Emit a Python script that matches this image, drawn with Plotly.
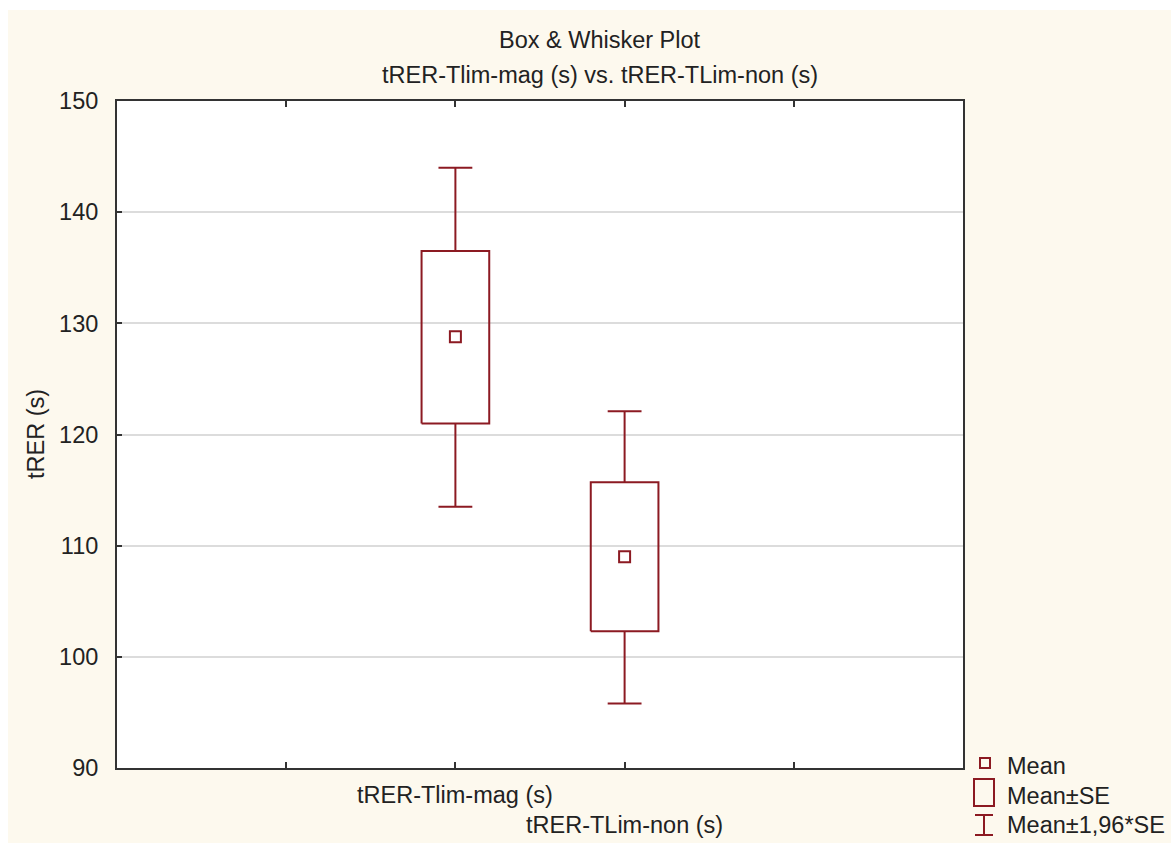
import plotly.graph_objects as go

# ---- data ----
categories = ["tRER-Tlim-mag (s)", "tRER-TLim-non (s)"]
positions = [1, 2]
means = [128.8, 109.0]
se_low = [121.0, 102.3]
se_high = [136.5, 115.7]
ci_low = [113.5, 95.8]
ci_high = [144.0, 122.1]
y_ticks = [90, 100, 110, 120, 130, 140, 150]
legend_labels = ["Mean", "Mean±SE", "Mean±1,96*SE"]

title_lines = ["Box & Whisker Plot", "tRER-Tlim-mag (s) vs. tRER-TLim-non (s)"]
y_title = "tRER (s)"

RED = "#8C1A22"
CREAM = "#FDF9EE"
FONT = "Liberation Sans, Arial, sans-serif"
FS = 23.5

W, H = 1171, 843
L, R, T, B = 117, 963, 101, 768


def px_x(p):
    return (p - L) / (R - L)


def px_y(p):
    return (B - p) / (B - T)


fig = go.Figure()

box_half = 0.2
cap_half = 0.1

for pos, m, lo, hi, clo, chi in zip(positions, means, se_low, se_high, ci_low, ci_high):
    # whiskers (box edge to cap)
    fig.add_trace(go.Scatter(
        x=[pos, pos, None, pos - cap_half, pos + cap_half, None,
           pos, pos, None, pos - cap_half, pos + cap_half],
        y=[hi, chi, None, chi, chi, None, lo, clo, None, clo, clo],
        mode="lines", line=dict(color=RED, width=2), hoverinfo="skip", showlegend=False))
    # SE box
    fig.add_trace(go.Scatter(
        x=[pos - box_half, pos + box_half, pos + box_half, pos - box_half, pos - box_half],
        y=[lo, lo, hi, hi, lo],
        mode="lines", line=dict(color=RED, width=2), hoverinfo="skip", showlegend=False))

# means
fig.add_trace(go.Scatter(
    x=positions, y=means, mode="markers",
    marker=dict(symbol="square-open", size=11, color=RED, line=dict(width=2, color=RED)),
    showlegend=False))

shapes = [
    # white outer border (top and left)
    dict(type="rect", xref="paper", yref="paper", layer="below",
         x0=px_x(-5), x1=px_x(8), y0=px_y(H + 10), y1=px_y(-5),
         fillcolor="white", line=dict(width=0)),
    dict(type="rect", xref="paper", yref="paper", layer="below",
         x0=px_x(-5), x1=px_x(W + 10), y0=px_y(10), y1=px_y(-5),
         fillcolor="white", line=dict(width=0)),
    # legend: mean marker
    dict(type="rect", xref="paper", yref="paper",
         x0=px_x(980), x1=px_x(990), y0=px_y(768), y1=px_y(758),
         line=dict(color=RED, width=2)),
    # legend: SE box
    dict(type="rect", xref="paper", yref="paper",
         x0=px_x(974), x1=px_x(994), y0=px_y(806), y1=px_y(779),
         line=dict(color=RED, width=2)),
    # legend: I-beam
    dict(type="line", xref="paper", yref="paper",
         x0=px_x(975), x1=px_x(993), y0=px_y(815), y1=px_y(815),
         line=dict(color=RED, width=2)),
    dict(type="line", xref="paper", yref="paper",
         x0=px_x(984), x1=px_x(984), y0=px_y(815), y1=px_y(835),
         line=dict(color=RED, width=2)),
    dict(type="line", xref="paper", yref="paper",
         x0=px_x(975), x1=px_x(993), y0=px_y(835), y1=px_y(835),
         line=dict(color=RED, width=2)),
]

annotations = []
# titles
for txt, py in zip(title_lines, [40, 75]):
    annotations.append(dict(text=txt, xref="paper", yref="paper",
                            x=px_x(600), y=px_y(py), xanchor="center", yanchor="middle",
                            showarrow=False, font=dict(family=FONT, size=FS, color="#222")))
# y title
annotations.append(dict(text=y_title, xref="paper", yref="paper", textangle=-90,
                        x=px_x(36), y=px_y(434), xanchor="center", yanchor="middle",
                        showarrow=False, font=dict(family=FONT, size=FS, color="#222")))
# staggered category labels
for pos, cat, py in zip(positions, categories, [795, 825]):
    annotations.append(dict(text=cat, xref="x", yref="paper", x=pos, y=px_y(py),
                            xanchor="center", yanchor="middle", showarrow=False,
                            font=dict(family=FONT, size=FS, color="#222")))
# legend labels
for lab, py in zip(legend_labels, [766, 796, 825]):
    annotations.append(dict(text=lab, xref="paper", yref="paper", x=px_x(1005), y=px_y(py),
                            xanchor="left", yanchor="middle", showarrow=False,
                            font=dict(family=FONT, size=FS, color="#222")))

fig.update_layout(
    width=W, height=H,
    margin=dict(l=L, r=W - R, t=T, b=H - B, pad=0),
    paper_bgcolor=CREAM, plot_bgcolor="white",
    shapes=shapes, annotations=annotations,
    showlegend=False,
    xaxis=dict(range=[-1, 4], tickvals=[0, 1, 2, 3], showticklabels=False,
               ticks="inside", ticklen=6, tickwidth=2, tickcolor="#333",
               showgrid=False, zeroline=False, showline=True, linecolor="#333",
               linewidth=2, mirror="ticks"),
    yaxis=dict(range=[90, 150], tickvals=y_ticks, ticks="inside", ticklen=5,
               tickwidth=2, tickcolor="#333", showgrid=True, gridcolor="#DCDCDC",
               gridwidth=2, zeroline=False, showline=True, linecolor="#333",
               linewidth=2, mirror=True, ticklabelstandoff=12,
               tickfont=dict(family=FONT, size=FS, color="#222")),
)

fig.write_html(
    "out.html",
    config={"displayModeBar": False},
    post_script="document.body.style.margin='0';document.body.style.overflow='hidden';",
)
